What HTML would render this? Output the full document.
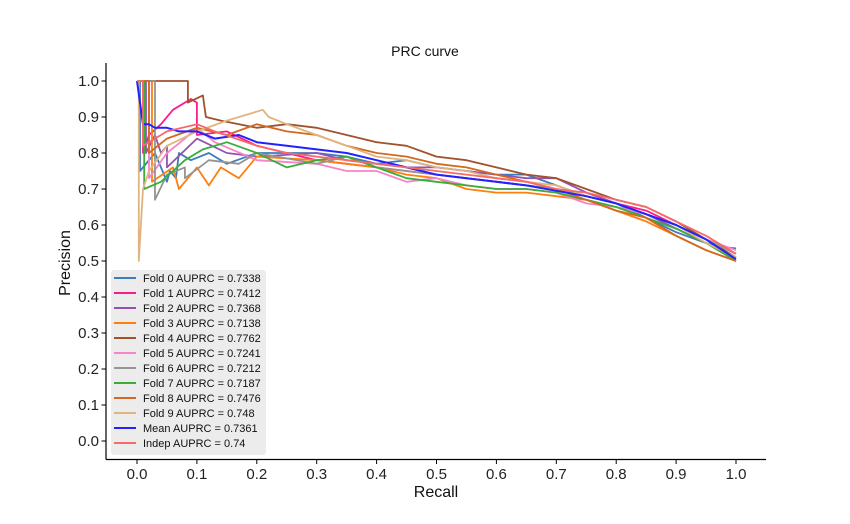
<!DOCTYPE html>
<html><head><meta charset="utf-8">
<style>
body{margin:0;background:#fff;}
svg{display:block;font-family:"Liberation Sans","DejaVu Sans",sans-serif;}
</style></head>
<body>
<svg id="chart" width="850" height="524" viewBox="0 0 850 524">
  <text x="425" y="56" text-anchor="middle" font-size="14" fill="#111">PRC curve</text>
  <g id="series"></g>
  <line x1="106" y1="63" x2="106" y2="459.5" stroke="#000" stroke-width="1.2"/>
  <line x1="106" y1="459.5" x2="766" y2="459.5" stroke="#000" stroke-width="1.2"/>
  <g id="ticks"></g>
  <text x="436" y="497" text-anchor="middle" font-size="16" fill="#111">Recall</text>
  <text x="70" y="263" text-anchor="middle" font-size="16" fill="#111" transform="rotate(-90 70 263)">Precision</text>
  <g id="legend"></g>
</svg>
<script>
const xTicks=[0,0.1,0.2,0.3,0.4,0.5,0.6,0.7,0.8,0.9,1.0];
const yTicks=[0,0.1,0.2,0.3,0.4,0.5,0.6,0.7,0.8,0.9,1.0];
const seriesNames=["Fold 0 AUPRC = 0.7338","Fold 1 AUPRC = 0.7412","Fold 2 AUPRC = 0.7368","Fold 3 AUPRC = 0.7138","Fold 4 AUPRC = 0.7762","Fold 5 AUPRC = 0.7241","Fold 6 AUPRC = 0.7212","Fold 7 AUPRC = 0.7187","Fold 8 AUPRC = 0.7476","Fold 9 AUPRC = 0.748","Mean AUPRC = 0.7361","Indep AUPRC = 0.74"];
const seriesColors=["#3b7dbd","#ff1a8c","#9650b0","#ff7f0e","#a0522d","#f783c8","#949494","#3aac3a","#d2691e","#e0b47e","#2222ff","#f86a6a"];
const fold0=[[0,1],[0.005,1],[0.005,0.75],[0.03,0.8],[0.05,0.72],[0.055,0.75],[0.06,0.74],[0.065,0.73],[0.07,0.8],[0.09,0.78],[0.12,0.8],[0.15,0.77],[0.2,0.8],[0.3,0.8],[0.35,0.79],[0.4,0.77],[0.45,0.78],[0.5,0.76],[0.55,0.75],[0.6,0.74],[0.65,0.74],[0.7,0.71],[0.75,0.68],[0.8,0.66],[0.85,0.62],[0.9,0.58],[0.95,0.55],[0.97,0.54],[1,0.535]];
const fold1=[[0,1],[0.01,1],[0.01,0.8],[0.02,0.85],[0.04,0.88],[0.06,0.92],[0.09,0.95],[0.1,0.94],[0.1,0.85],[0.15,0.86],[0.2,0.82],[0.25,0.8],[0.3,0.78],[0.35,0.77],[0.4,0.76],[0.45,0.75],[0.5,0.74],[0.55,0.73],[0.6,0.72],[0.65,0.71],[0.7,0.7],[0.75,0.68],[0.8,0.66],[0.85,0.64],[0.9,0.6],[0.95,0.56],[1,0.52]];
const fold2=[[0,1],[0.015,1],[0.015,0.8],[0.03,0.85],[0.04,0.8],[0.05,0.82],[0.05,0.76],[0.1,0.84],[0.15,0.8],[0.2,0.79],[0.3,0.8],[0.35,0.78],[0.4,0.77],[0.45,0.76],[0.5,0.76],[0.55,0.75],[0.6,0.74],[0.65,0.73],[0.7,0.73],[0.75,0.69],[0.8,0.66],[0.85,0.63],[0.9,0.59],[0.95,0.55],[1,0.51]];
const fold3=[[0,1],[0.025,1],[0.025,0.72],[0.06,0.76],[0.07,0.7],[0.1,0.76],[0.12,0.71],[0.14,0.76],[0.17,0.73],[0.2,0.79],[0.3,0.78],[0.35,0.77],[0.4,0.76],[0.45,0.74],[0.5,0.73],[0.55,0.7],[0.6,0.69],[0.65,0.69],[0.7,0.68],[0.75,0.67],[0.8,0.64],[0.85,0.61],[0.9,0.57],[0.95,0.53],[1,0.5]];
const fold4=[[0,1],[0.04,1],[0.085,1],[0.085,0.94],[0.11,0.96],[0.115,0.9],[0.14,0.89],[0.2,0.87],[0.25,0.88],[0.3,0.87],[0.35,0.85],[0.4,0.83],[0.45,0.82],[0.5,0.79],[0.55,0.78],[0.6,0.76],[0.65,0.74],[0.7,0.73],[0.75,0.7],[0.8,0.67],[0.85,0.65],[0.9,0.61],[0.95,0.56],[1,0.51]];
const fold5=[[0,1],[0.02,1],[0.02,0.73],[0.05,0.8],[0.08,0.84],[0.1,0.87],[0.13,0.83],[0.2,0.78],[0.3,0.77],[0.35,0.75],[0.4,0.75],[0.45,0.72],[0.5,0.73],[0.55,0.71],[0.6,0.7],[0.65,0.7],[0.7,0.69],[0.75,0.66],[0.8,0.65],[0.85,0.63],[0.9,0.6],[0.95,0.56],[1,0.53]];
const fold6=[[0,1],[0.03,1],[0.03,0.67],[0.05,0.74],[0.08,0.76],[0.08,0.73],[0.12,0.78],[0.17,0.77],[0.2,0.8],[0.3,0.77],[0.35,0.79],[0.4,0.76],[0.45,0.75],[0.5,0.74],[0.55,0.73],[0.6,0.72],[0.65,0.71],[0.7,0.7],[0.75,0.68],[0.8,0.66],[0.85,0.63],[0.9,0.6],[0.95,0.56],[1,0.52]];
const fold7=[[0,1],[0.012,1],[0.012,0.7],[0.04,0.72],[0.08,0.78],[0.11,0.81],[0.15,0.83],[0.2,0.8],[0.25,0.76],[0.3,0.78],[0.35,0.79],[0.4,0.76],[0.45,0.73],[0.5,0.72],[0.55,0.71],[0.6,0.7],[0.65,0.7],[0.7,0.69],[0.75,0.67],[0.8,0.65],[0.85,0.62],[0.9,0.59],[0.95,0.55],[1,0.5]];
const fold8=[[0,1],[0.02,1],[0.02,0.8],[0.05,0.84],[0.1,0.87],[0.15,0.85],[0.2,0.88],[0.25,0.86],[0.3,0.85],[0.35,0.82],[0.4,0.8],[0.45,0.79],[0.5,0.77],[0.55,0.76],[0.6,0.74],[0.65,0.72],[0.7,0.7],[0.75,0.67],[0.8,0.64],[0.85,0.62],[0.9,0.57],[0.95,0.53],[1,0.5]];
const fold9=[[0,1],[0.003,1],[0.003,0.5],[0.01,0.7],[0.02,0.75],[0.05,0.82],[0.1,0.86],[0.15,0.89],[0.21,0.92],[0.22,0.9],[0.25,0.88],[0.3,0.85],[0.35,0.82],[0.4,0.79],[0.45,0.78],[0.5,0.76],[0.55,0.75],[0.6,0.73],[0.65,0.72],[0.7,0.71],[0.75,0.68],[0.8,0.66],[0.85,0.63],[0.9,0.6],[0.95,0.55],[1,0.51]];
const meanCurve=[[0,1],[0.01,0.88],[0.02,0.88],[0.03,0.87],[0.05,0.87],[0.07,0.86],[0.1,0.86],[0.13,0.84],[0.17,0.85],[0.2,0.83],[0.25,0.82],[0.3,0.81],[0.35,0.8],[0.4,0.78],[0.45,0.76],[0.5,0.74],[0.55,0.73],[0.6,0.72],[0.65,0.71],[0.7,0.695],[0.75,0.68],[0.8,0.66],[0.85,0.63],[0.9,0.6],[0.95,0.56],[1,0.505]];
const indepCurve=[[0,1],[0.01,1],[0.01,0.82],[0.05,0.86],[0.1,0.88],[0.13,0.86],[0.2,0.82],[0.25,0.8],[0.3,0.79],[0.35,0.78],[0.4,0.77],[0.45,0.76],[0.5,0.75],[0.55,0.74],[0.6,0.73],[0.65,0.72],[0.7,0.7],[0.75,0.69],[0.8,0.67],[0.85,0.65],[0.9,0.61],[0.95,0.57],[1,0.52]];
const allSeries=[fold0,fold1,fold2,fold3,fold4,fold5,fold6,fold7,fold8,fold9,meanCurve,indepCurve];

const NS="http://www.w3.org/2000/svg";
const xs=v=>137+v*599;
const ys=v=>441-v*360;
const ticksG=document.getElementById('ticks');
function mk(tag,attrs,parent){const e=document.createElementNS(NS,tag);for(const k in attrs)e.setAttribute(k,attrs[k]);parent.appendChild(e);return e;}
xTicks.forEach(t=>{
  const l=mk('line',{x1:xs(t),x2:xs(t),y1:459.5,y2:464,stroke:'#000'},ticksG);
  
  
  const tx=mk('text',{x:xs(t),y:479,'text-anchor':'middle','font-size':'15',fill:'#222'},ticksG);
  tx.textContent=t.toFixed(1);
  
  
});
yTicks.forEach(t=>{
  const l=mk('line',{x1:101.5,x2:106,y1:ys(t),y2:ys(t),stroke:'#000'},ticksG);
  
  
  const tx=mk('text',{x:99,y:ys(t)+5,'text-anchor':'end','font-size':'15',fill:'#222'},ticksG);
  tx.textContent=t.toFixed(1);
  
  
});
const sG=document.getElementById('series');
allSeries.forEach((s,i)=>{
  let d='M'+xs(s[0][0])+','+ys(s[0][1]);
  for(let j=1;j<s.length;j++){d+=' L'+xs(s[j][0])+','+ys(s[j][1]);}
  const p=mk('path',{d:d,fill:'none',stroke:seriesColors[i],'stroke-width':i===10?2:1.8,'stroke-linejoin':'round'},sG);
  
  
});
const lg=document.getElementById('legend');
const box=mk('rect',{x:111,y:270,width:155,height:185,rx:3,fill:'#ebebeb','fill-opacity':0.95},lg);


seriesNames.forEach((n,i)=>{
  const y=278+i*15;
  const g=mk('g',{},lg);
  
  
  mk('line',{x1:114,x2:136,y1:y,y2:y,stroke:seriesColors[i],'stroke-width':2},g);
  const t=mk('text',{x:143,y:y+4,'font-size':'11',fill:'#111'},g);
  t.textContent=n;
});
</script>
</body></html>
